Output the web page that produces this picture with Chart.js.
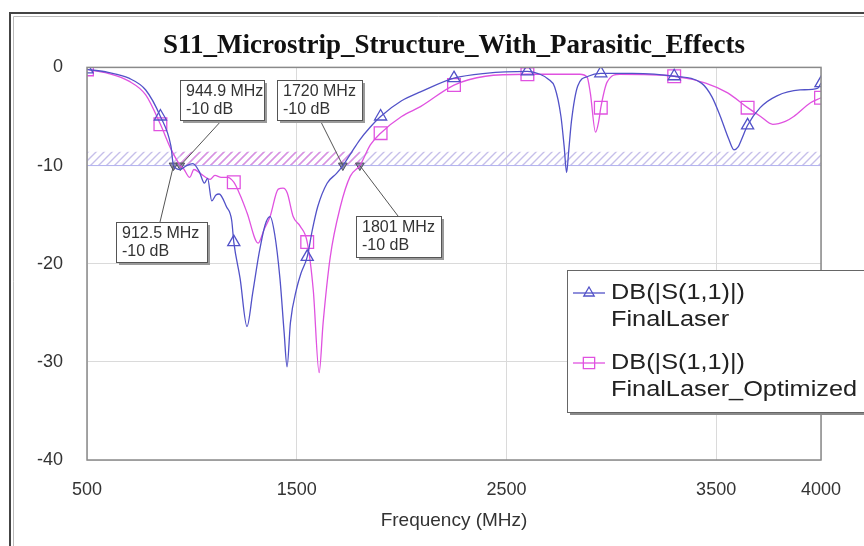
<!DOCTYPE html>
<html>
<head>
<meta charset="utf-8">
<script src="https://cdn.jsdelivr.net/npm/chart.js@4.4.1/dist/chart.umd.min.js"></script>
<style>
  html, body { margin: 0; padding: 0; background: #fff; }
  #wrap { width: 864px; height: 546px; position: relative; }
</style>
</head>
<body>
<div id="wrap"><canvas id="s11Chart" width="864" height="546"></canvas></div>
<script>
// FinalLaser trace (blue, triangles)
const FREQ_LASER = [500, 600, 700, 780, 850, 900, 912.5, 945, 975, 1005, 1035, 1060, 1075, 1095, 1115, 1130,
  1165, 1190, 1200, 1230, 1263, 1290, 1320, 1350, 1373, 1395, 1420, 1440, 1454, 1470, 1500, 1520, 1550, 1575,
  1600, 1645, 1690, 1720, 1760, 1800, 1850, 1900, 2000, 2090, 2250, 2400, 2600, 2660, 2700, 2730, 2760, 2775,
  2787, 2797, 2810, 2840, 2890, 2950, 3100, 3300, 3430, 3480, 3520, 3560, 3585, 3605, 3620, 3650, 3710, 3790,
  3900, 3985, 4000];
const DB_LASER = [-0.2, -0.5, -1.1, -2.3, -5.0, -8.0, -10.0, -10.4, -10.0, -9.8, -10.6, -11.8, -11.3, -13.6, -13.0, -12.9,
  -14.2, -15.6, -17.8, -21.5, -26.4, -23.0, -19.0, -16.0, -15.2, -17.0, -21.5, -27.0, -30.5, -26.0, -22.5, -21.0, -19.3, -16.5,
  -14.2, -11.8, -10.8, -10.0, -8.7, -7.4, -6.1, -5.0, -3.4, -2.5, -1.1, -0.6, -0.4, -0.7, -1.2, -2.0, -5.0, -8.0,
  -10.7, -8.5, -5.5, -1.9, -0.9, -0.6, -0.6, -0.9, -1.6, -3.0, -5.0, -7.3, -8.4, -8.1, -7.4, -5.9, -4.1, -2.9,
  -2.3, -2.1, -1.6];

// FinalLaser_Optimized trace (magenta, squares)
const FREQ_OPT = [500, 600, 700, 780, 850, 900, 944.9, 960, 990, 1010, 1040, 1087, 1110, 1140, 1170, 1200, 1230,
  1263, 1316, 1345, 1373, 1412, 1435, 1455, 1483, 1517, 1550, 1579, 1607, 1626, 1660, 1708, 1755, 1801, 1851,
  1900, 2000, 2090, 2250, 2400, 2600, 2850, 2885, 2900, 2925, 2940, 2950, 2980, 3040, 3300, 3450, 3555, 3650,
  3712, 3770, 3830, 3870, 3950, 4000];
const DB_OPT = [-0.2, -0.6, -1.4, -2.8, -5.8, -8.3, -10.0, -10.3, -11.2, -10.4, -10.8, -11.4, -11.0, -11.2, -11.2, -11.7, -13.0,
  -14.8, -17.9, -16.5, -15.2, -12.4, -12.3, -12.8, -15.2, -16.2, -17.8, -22.7, -31.1, -26.0, -19.3, -14.2, -11.1, -10.0, -7.9,
  -6.7, -5.0, -4.0, -1.8, -0.9, -0.7, -0.7, -1.0, -2.6, -6.6, -5.5, -4.1, -1.5, -0.7, -0.9, -1.6, -2.6, -4.1,
  -5.0, -5.8, -5.5, -5.0, -3.6, -3.1];

const SYMBOL_FREQS = [500, 850, 1200, 1550, 1900, 2250, 2600, 2950, 3300, 3650, 4000];
const X_TICKS = [500, 1500, 2500, 3500, 4000];
const Y_TICKS = [0, -10, -20, -30, -40];

const MARKER_FREQS = [912.5, 944.9, 1720, 1801];
const MARKER_DB = [-10, -10, -10, -10];
const MARKER_LABELS = ['912.5 MHz', '944.9 MHz', '1720 MHz', '1801 MHz'];
const MARKER_VALUES = ['-10 dB', '-10 dB', '-10 dB', '-10 dB'];

const THRESHOLD_DB = -10;
const BAND_TOP_DB = -8.6;
const TRACE_LABEL = 'DB(|S(1,1)|)';
const SERIES_NAMES = ['FinalLaser', 'FinalLaser_Optimized'];

const BLUE = '#5252c8';
const PINK = '#e052e0';
const FONT = '"Liberation Sans", Arial, sans-serif';

const toPoints = (xs, ys) => xs.map((x, i) => ({ x, y: ys[i] }));
const symbolRadius = (r) => (ctx) => (ctx.raw && SYMBOL_FREQS.includes(ctx.raw.x) ? r : 0);

function hatch(color) {
  const c = document.createElement('canvas');
  c.width = 8; c.height = 8;
  const g = c.getContext('2d');
  g.strokeStyle = color;
  g.lineWidth = 1.4;
  g.beginPath();
  g.moveTo(0, 8); g.lineTo(8, 0);
  g.moveTo(-2, 2); g.lineTo(2, -2);
  g.moveTo(6, 10); g.lineTo(10, 6);
  g.stroke();
  return g.createPattern(c, 'repeat');
}

// frame around the picture, hatched -10 dB band and plot border
const backdrop = {
  id: 'backdrop',
  beforeDraw(chart) {
    const { ctx, width, height } = chart;
    ctx.save();
    ctx.fillStyle = '#fff';
    ctx.fillRect(0, 0, width, height);
    ctx.strokeStyle = '#444';
    ctx.lineWidth = 2;
    ctx.beginPath();
    ctx.moveTo(10, height); ctx.lineTo(10, 13); ctx.lineTo(width, 13);
    ctx.stroke();
    ctx.strokeStyle = '#bbb';
    ctx.lineWidth = 1;
    ctx.beginPath();
    ctx.moveTo(13.5, height); ctx.lineTo(13.5, 16.5); ctx.lineTo(width, 16.5);
    ctx.stroke();
    ctx.restore();
  },
  beforeDatasetsDraw(chart) {
    const { ctx, chartArea: a, scales: { x, y } } = chart;
    const yTop = y.getPixelForValue(BAND_TOP_DB);
    const yBot = y.getPixelForValue(THRESHOLD_DB);
    ctx.save();
    ctx.fillStyle = hatch('#c6bfea');
    ctx.fillRect(a.left, yTop, a.right - a.left, yBot - yTop);
    const x0 = x.getPixelForValue(MARKER_FREQS[1]);
    const x1 = x.getPixelForValue(MARKER_FREQS[3]);
    ctx.fillStyle = hatch('#dc8ee2');
    ctx.fillRect(x0, yTop, x1 - x0, yBot - yTop);
    ctx.strokeStyle = '#b4b4f0';
    ctx.lineWidth = 1;
    ctx.beginPath();
    ctx.moveTo(a.left, yBot); ctx.lineTo(a.right, yBot);
    ctx.stroke();
    ctx.restore();
  },
  afterDatasetsDraw(chart) {
    const { ctx, chartArea: a } = chart;
    ctx.save();
    ctx.strokeStyle = '#8a8a8a';
    ctx.lineWidth = 1.5;
    ctx.strokeRect(a.left, a.top, a.right - a.left, a.bottom - a.top);
    ctx.restore();
  },
};

// marker readout boxes with leader lines
const BOXES = [
  { left: 116, top: 222, w: 91, h: 40, ax: 160, ay: 222 },
  { left: 180, top: 80, w: 84, h: 40, ax: 222, ay: 120 },
  { left: 277, top: 80, w: 85, h: 40, ax: 320, ay: 120 },
  { left: 356, top: 216, w: 85, h: 41, ax: 398, ay: 216 },
];

const readouts = {
  id: 'readouts',
  afterDraw(chart) {
    const { ctx, scales: { x, y } } = chart;
    ctx.save();
    BOXES.forEach((b, i) => {
      const px = x.getPixelForValue(MARKER_FREQS[i]);
      const py = y.getPixelForValue(MARKER_DB[i]);
      ctx.strokeStyle = '#555';
      ctx.lineWidth = 1;
      ctx.beginPath();
      ctx.moveTo(b.ax, b.ay); ctx.lineTo(px, py);
      ctx.stroke();
    });
    BOXES.forEach((b, i) => {
      ctx.fillStyle = '#9a9a9a';
      ctx.fillRect(b.left + 3, b.top + 3, b.w, b.h);
      ctx.fillStyle = '#fff';
      ctx.fillRect(b.left, b.top, b.w, b.h);
      ctx.strokeStyle = '#555';
      ctx.strokeRect(b.left + 0.5, b.top + 0.5, b.w, b.h);
      ctx.fillStyle = '#333';
      ctx.font = '16px ' + FONT;
      ctx.textBaseline = 'middle';
      ctx.textAlign = 'left';
      ctx.fillText(MARKER_LABELS[i], b.left + 6, b.top + 12);
      ctx.fillText(MARKER_VALUES[i], b.left + 6, b.top + 30);
    });

    // legend
    const L = { left: 567, top: 270, w: 310, h: 142 };
    ctx.fillStyle = '#8a8a8a';
    ctx.fillRect(L.left + 3, L.top + 3, L.w, L.h);
    ctx.fillStyle = '#fff';
    ctx.fillRect(L.left, L.top, L.w, L.h);
    ctx.strokeStyle = '#666';
    ctx.strokeRect(L.left + 0.5, L.top + 0.5, L.w, L.h);
    const entries = [
      { color: BLUE, style: 'triangle', r: 6, y: 293 },
      { color: PINK, style: 'rect', r: 8, y: 363 },
    ];
    entries.forEach((e, i) => {
      ctx.strokeStyle = e.color;
      ctx.fillStyle = 'rgba(0,0,0,0)';
      ctx.lineWidth = 1.3;
      ctx.beginPath();
      ctx.moveTo(573, e.y); ctx.lineTo(605, e.y);
      ctx.stroke();
      Chart.helpers.drawPoint(ctx, { pointStyle: e.style, radius: e.r, borderWidth: 1.3 }, 589, e.y);
      ctx.fillStyle = '#222';
      ctx.font = '22px ' + FONT;
      ctx.textBaseline = 'middle';
      ctx.save();
      ctx.translate(611, 0);
      ctx.scale(1.15, 1);
      ctx.fillText(TRACE_LABEL, 0, e.y);
      ctx.fillText(SERIES_NAMES[i], 0, e.y + 27);
      ctx.restore();
    });
    ctx.restore();
  },
};

new Chart(document.getElementById('s11Chart'), {
  type: 'line',
  data: {
    datasets: [
      {
        label: SERIES_NAMES[0],
        data: toPoints(FREQ_LASER, DB_LASER),
        borderColor: BLUE,
        borderWidth: 1.3,
        cubicInterpolationMode: 'monotone',
        pointStyle: 'triangle',
        pointRadius: symbolRadius(7),
        pointBorderColor: BLUE,
        pointBackgroundColor: 'rgba(0,0,0,0)',
        pointBorderWidth: 1.3,
      },
      {
        label: SERIES_NAMES[1],
        data: toPoints(FREQ_OPT, DB_OPT),
        borderColor: PINK,
        borderWidth: 1.3,
        cubicInterpolationMode: 'monotone',
        pointStyle: 'rect',
        pointRadius: symbolRadius(9),
        pointBorderColor: PINK,
        pointBackgroundColor: 'rgba(0,0,0,0)',
        pointBorderWidth: 1.3,
      },
      {
        label: 'markers',
        type: 'scatter',
        data: toPoints(MARKER_FREQS, MARKER_DB),
        pointStyle: 'triangle',
        rotation: 180,
        pointRadius: 5,
        pointBackgroundColor: '#8c8ca8',
        pointBorderColor: '#505060',
        pointBorderWidth: 1,
        showLine: false,
      },
    ],
  },
  options: {
    responsive: false,
    animation: false,
    devicePixelRatio: 1,
    layout: { padding: { left: 0, right: 43, top: 0, bottom: 0 } },
    plugins: {
      legend: { display: false },
      tooltip: { enabled: false },
      title: {
        display: true,
        fullSize: false,
        text: 'S11_Microstrip_Structure_With_Parasitic_Effects',
        color: '#111',
        font: { family: '"Liberation Serif", "Times New Roman", serif', size: 27, weight: 'bold', lineHeight: 1.2 },
        padding: { top: 30, bottom: 5 },
      },
    },
    scales: {
      x: {
        type: 'linear',
        min: 500,
        max: 4000,
        afterBuildTicks: (s) => { s.ticks = X_TICKS.map((v) => ({ value: v })); },
        afterFit: (s) => { s.height = 86; },
        grid: { color: '#dadada', drawTicks: false },
        border: { display: false },
        ticks: { color: '#333', padding: 19, font: { family: FONT, size: 18 }, callback: (v) => String(v) },
        title: {
          display: true,
          text: 'Frequency (MHz)',
          color: '#333',
          font: { family: FONT, size: 19 },
          padding: { top: 0, bottom: 14 },
        },
      },
      y: {
        min: -40,
        max: 0,
        afterBuildTicks: (s) => { s.ticks = Y_TICKS.map((v) => ({ value: v })); },
        afterFit: (s) => { s.width = 87; },
        grid: { color: '#dadada', drawTicks: false },
        border: { display: false },
        ticks: { color: '#333', padding: 24, font: { family: FONT, size: 18 } },
      },
    },
  },
  plugins: [backdrop, readouts],
});
</script>
</body>
</html>
